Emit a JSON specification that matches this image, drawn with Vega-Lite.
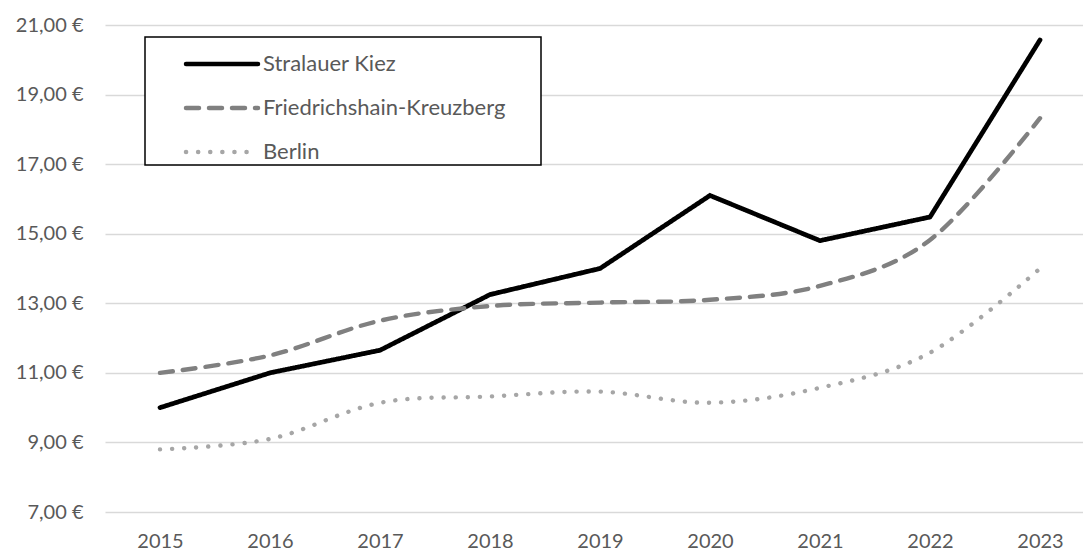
{
  "$schema": "https://vega.github.io/schema/vega-lite/v6.json",
  "width": 978,
  "height": 487,
  "autosize": {"type": "none"},
  "padding": {"left": 105, "top": 25, "right": 0, "bottom": 39},
  "background": "white",
  "config": {"view": {"stroke": null}, "font": "Lato"},
  "data": {
    "values": [
      {"year": 2015, "series": "Stralauer Kiez", "price": 10.0},
      {"year": 2016, "series": "Stralauer Kiez", "price": 11.0},
      {"year": 2017, "series": "Stralauer Kiez", "price": 11.65},
      {"year": 2018, "series": "Stralauer Kiez", "price": 13.25},
      {"year": 2019, "series": "Stralauer Kiez", "price": 14.0},
      {"year": 2020, "series": "Stralauer Kiez", "price": 16.1},
      {"year": 2021, "series": "Stralauer Kiez", "price": 14.8},
      {"year": 2022, "series": "Stralauer Kiez", "price": 15.48},
      {"year": 2023, "series": "Stralauer Kiez", "price": 20.57},
      {"year": 2015, "series": "Friedrichshain-Kreuzberg", "price": 11.0},
      {"year": 2016, "series": "Friedrichshain-Kreuzberg", "price": 11.5},
      {"year": 2017, "series": "Friedrichshain-Kreuzberg", "price": 12.5},
      {"year": 2018, "series": "Friedrichshain-Kreuzberg", "price": 12.92},
      {"year": 2019, "series": "Friedrichshain-Kreuzberg", "price": 13.02},
      {"year": 2020, "series": "Friedrichshain-Kreuzberg", "price": 13.1},
      {"year": 2021, "series": "Friedrichshain-Kreuzberg", "price": 13.5},
      {"year": 2022, "series": "Friedrichshain-Kreuzberg", "price": 14.82},
      {"year": 2023, "series": "Friedrichshain-Kreuzberg", "price": 18.32},
      {"year": 2015, "series": "Berlin", "price": 8.8},
      {"year": 2016, "series": "Berlin", "price": 9.1},
      {"year": 2017, "series": "Berlin", "price": 10.14},
      {"year": 2018, "series": "Berlin", "price": 10.32},
      {"year": 2019, "series": "Berlin", "price": 10.46},
      {"year": 2020, "series": "Berlin", "price": 10.14},
      {"year": 2021, "series": "Berlin", "price": 10.57},
      {"year": 2022, "series": "Berlin", "price": 11.58},
      {"year": 2023, "series": "Berlin", "price": 14.0}
    ]
  },
  "encoding": {
    "x": {
      "field": "year",
      "type": "quantitative",
      "scale": {"domain": [2014.5, 2023.3909], "nice": false, "zero": false},
      "axis": {
        "title": null,
        "values": [2015, 2016, 2017, 2018, 2019, 2020, 2021, 2022, 2023],
        "format": "d",
        "labelAngle": 0,
        "domain": false,
        "ticks": false,
        "grid": false,
        "labelPadding": 19,
        "labelFontSize": 20,
        "labelColor": "#595959",
        "labelFont": "Lato"
      }
    },
    "y": {
      "field": "price",
      "type": "quantitative",
      "scale": {"domain": [7, 21], "nice": false, "zero": false},
      "axis": {
        "title": null,
        "values": [7, 9, 11, 13, 15, 17, 19, 21],
        "labelExpr": "replace(format(datum.value, '.2f'), '.', ',') + ' €'",
        "domain": false,
        "ticks": false,
        "labelPadding": 22,
        "labelFontSize": 20,
        "labelColor": "#595959",
        "labelFont": "Lato",
        "gridColor": "#d9d9d9",
        "gridWidth": 1.5
      }
    },
    "color": {
      "field": "series",
      "type": "nominal",
      "scale": {
        "domain": ["Stralauer Kiez", "Friedrichshain-Kreuzberg", "Berlin"],
        "range": ["#000000", "#808080", "#a6a6a6"]
      },
      "legend": {
        "title": "\u00a0",
        "titleOrient": "right",
        "titlePadding": 34,
        "titleFontSize": 10,
        "orient": "none",
        "legendX": 40,
        "legendY": 12,
        "symbolType": "M-1.6,0H1.6",
        "symbolSize": 2025,
        "symbolStrokeWidth": 4.5,
        "symbolOffset": 50,
        "labelOffset": 16,
        "labelFontSize": 22,
        "labelFont": "Lato",
        "labelColor": "#595959",
        "labelLimit": 500,
        "padding": 2,
        "rowPadding": 8,
        "strokeColor": "#000000",
        "fillColor": "white",
        "encode": {
          "legend": {"update": {"strokeWidth": {"value": 1.5}}},
          "symbols": {"update": {"strokeCap": {"value": "round"}}}
        }
      }
    },
    "strokeDash": {
      "field": "series",
      "type": "nominal",
      "scale": {
        "domain": ["Stralauer Kiez", "Friedrichshain-Kreuzberg", "Berlin"],
        "range": [[1, 0], [13, 10], [0.1, 12]]
      },
      "legend": {
        "title": "\u00a0",
        "titleOrient": "right",
        "titlePadding": 34,
        "titleFontSize": 10,
        "orient": "none",
        "legendX": 40,
        "legendY": 12,
        "symbolType": "M-1.6,0H1.6",
        "symbolSize": 2025,
        "symbolStrokeWidth": 4.5,
        "symbolOffset": 50,
        "labelOffset": 16,
        "labelFontSize": 22,
        "labelFont": "Lato",
        "labelColor": "#595959",
        "labelLimit": 500,
        "padding": 2,
        "rowPadding": 8,
        "strokeColor": "#000000",
        "fillColor": "white",
        "encode": {
          "legend": {"update": {"strokeWidth": {"value": 1.5}}},
          "symbols": {"update": {"strokeCap": {"value": "round"}}}
        }
      }
    }
  },
  "layer": [
    {
      "transform": [{"filter": "datum.series === 'Stralauer Kiez'"}],
      "mark": {"type": "line", "strokeWidth": 4.7, "strokeCap": "round"}
    },
    {
      "transform": [{"filter": "datum.series !== 'Stralauer Kiez'"}],
      "mark": {"type": "line", "strokeWidth": 4.4, "strokeCap": "round", "interpolate": "cardinal", "tension": 0}
    }
  ]
}
